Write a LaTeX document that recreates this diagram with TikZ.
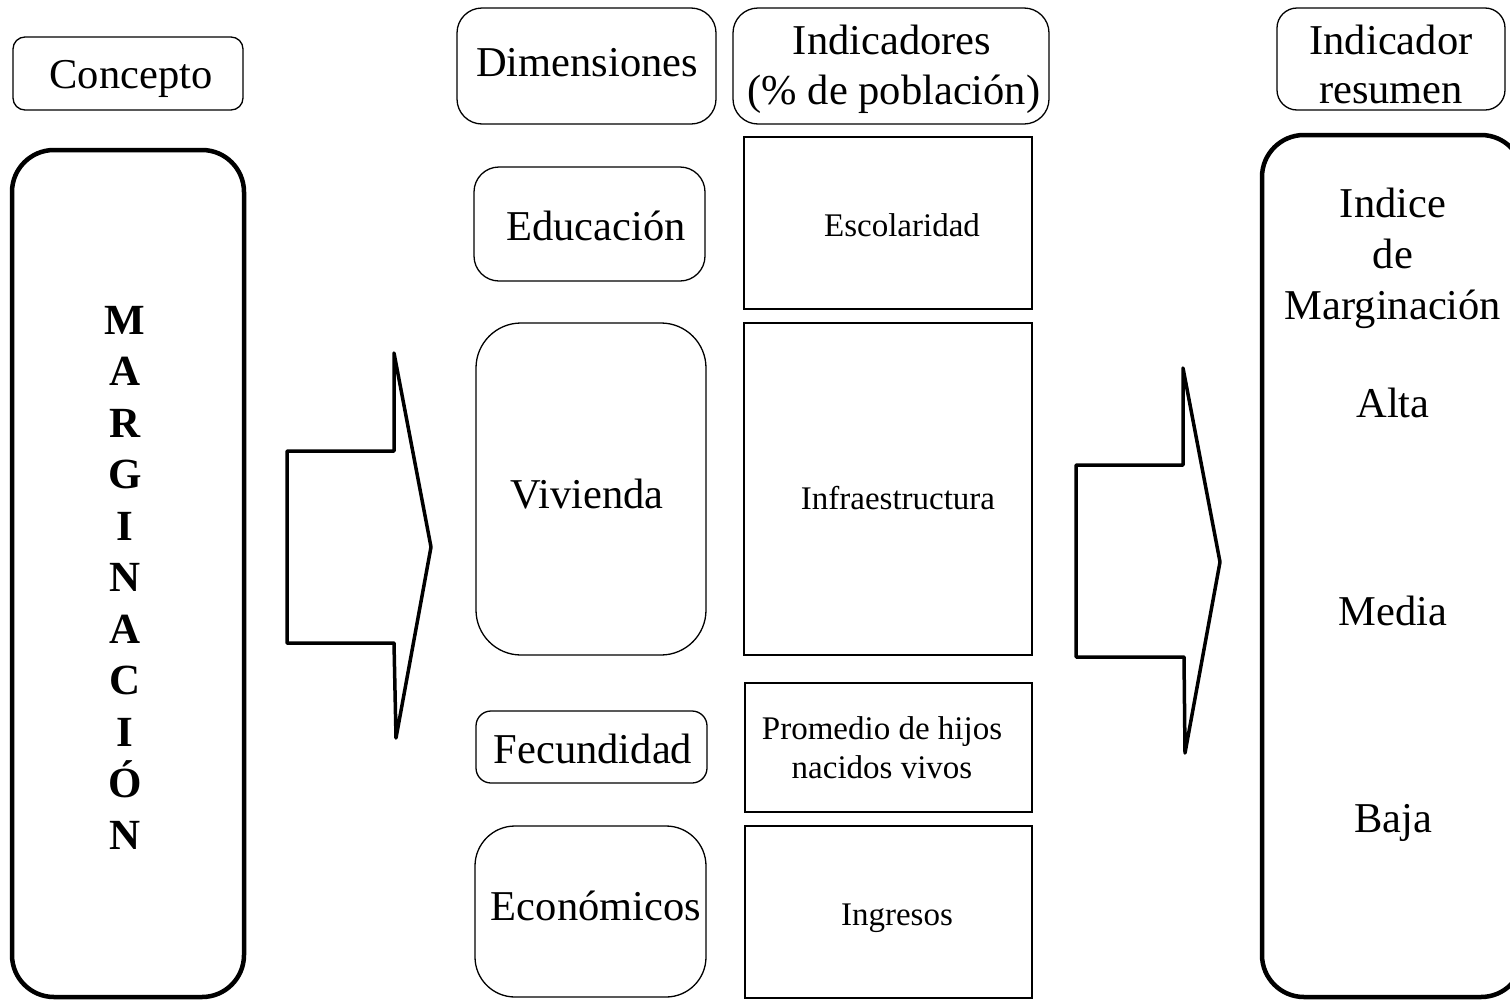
\documentclass[tikz,border=0pt]{standalone}
\usepackage{fontspec}
\setmainfont{Liberation Serif}
\usetikzlibrary{fit}
\tikzset{
  thinbox/.style={draw, line width=1.3pt, inner sep=0pt},
  thickbox/.style={draw, line width=4.5pt, inner sep=0pt},
  sqbox/.style={draw, line width=1.6pt, inner sep=0pt},
  bigtxt/.style={anchor=base, inner sep=0pt, font=\fontsize{42.5}{50}\selectfont},
  smalltxt/.style={anchor=base, inner sep=0pt, font=\fontsize{33}{40}\selectfont},
  lettxt/.style={anchor=base, inner sep=0pt, font=\fontsize{43}{50}\selectfont\bfseries},
  bigarrow/.style={draw, line width=3.5pt, line join=round}
}
\begin{document}
\begin{tikzpicture}[x=1pt,y=-1pt]
\useasboundingbox (0,0) rectangle (1510,999);
% left column
\node[thinbox, rounded corners=12pt, fit={(13,37) (243,110)}] (concepto) {};
\node[thickbox, rounded corners=42pt, fit={(12,150) (244,997)}] (marg) {};
% header boxes
\node[thinbox, rounded corners=25pt, fit={(457,8) (716,124)}] (dim) {};
\node[thinbox, rounded corners=25pt, fit={(733,8) (1049,124)}] (ind) {};
\node[thinbox, rounded corners=20pt, fit={(1277,8) (1505,110)}] (res) {};
\node[thickbox, rounded corners=42pt, fit={(1262,135) (1523,997)}] (resbig) {};
% dimension boxes
\node[thinbox, rounded corners=25pt, fit={(474,167) (705,281)}] (edu) {};
\node[thinbox, rounded corners=45pt, fit={(476,323) (706,655)}] (viv) {};
\node[thinbox, rounded corners=15pt, fit={(476,711) (707,783)}] (fec) {};
\node[thinbox, rounded corners=40pt, fit={(475,826) (706,997)}] (eco) {};
% indicator boxes
\node[sqbox, fit={(744,137) (1032,309)}] (esc) {};
\node[sqbox, fit={(744,323) (1032,655)}] (inf) {};
\node[sqbox, fit={(745,683) (1032,812)}] (prom) {};
\node[sqbox, fit={(745,826) (1032,998)}] (ing) {};
% arrows
\draw[bigarrow] (287,451) -- (394,451) -- (394,353) -- (431,547) -- (396,738) -- (394,643) -- (287,643) -- cycle;
\draw[bigarrow] (1076,465) -- (1183,465) -- (1183,368) -- (1220,562) -- (1185,753) -- (1184,657) -- (1076,657) -- cycle;
% texts
\node[bigtxt] (tconcepto) at (131,88) {Concepto};
\node[bigtxt] (tdim) at (587,76) {Dimensiones};
\node[bigtxt] (tind1) at (892,54) {Indicadores};
\node[bigtxt] (tind2) at (894,104) {(\% de población)};
\node[bigtxt] (tres1) at (1391,54) {Indicador};
\node[bigtxt] (tres2) at (1391,103) {resumen};
\node[bigtxt] (tindice) at (1393,217) {Indice};
\node[bigtxt] (tde) at (1393,268) {de};
\node[bigtxt] (tmarg) at (1393,319) {Marginación};
\node[bigtxt] (talta) at (1393,417) {Alta};
\node[bigtxt] (tmedia) at (1393,625) {Media};
\node[bigtxt] (tbaja) at (1393,832) {Baja};
\node[bigtxt] (tedu) at (596,240) {Educación};
\node[bigtxt] (tviv) at (587,508) {Vivienda};
\node[bigtxt] (tfec) at (593,763) {Fecundidad};
\node[bigtxt] (teco) at (596,920) {Económicos};
\node[smalltxt] (tesc) at (902,236) {Escolaridad};
\node[smalltxt] (tinf) at (898,509) {Infraestructura};
\node[smalltxt] (tprom1) at (882,739) {Promedio de hijos};
\node[smalltxt] (tprom2) at (882,778) {nacidos vivos};
\node[smalltxt] (ting) at (897,925) {Ingresos};
% vertical letters
\foreach \l [count=\i from 0] in {M,A,R,G,I,N,A,C,I,Ó,N}{
  \node[lettxt] (let\i) at (125,334+51.5*\i) {\l};
}
\end{tikzpicture}
\end{document}
